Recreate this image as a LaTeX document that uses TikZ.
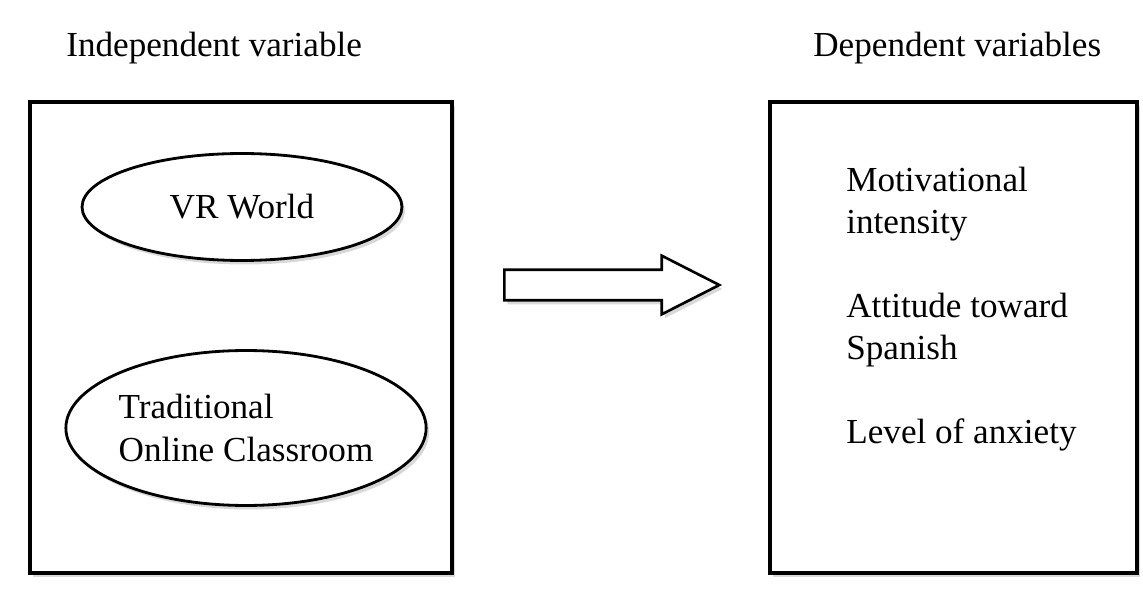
\documentclass[tikz,border=0pt]{standalone}
\usepackage{fontspec}
\setmainfont{Liberation Serif}
\usetikzlibrary{shapes.geometric,shapes.arrows,shadows}

\begin{document}
\begin{tikzpicture}[x=0.02cm,y=-0.02cm,font=\fontsize{20}{24}\selectfont,
  soft/.style={drop shadow={opacity=0.3,shadow xshift=0.06cm,shadow yshift=-0.08cm}},
  varbox/.style={draw,fill=white,line width=2pt,minimum height=9.42cm,soft},
  level/.style={ellipse,draw,fill=white,line width=1.6pt,inner sep=0pt,align=left,soft},
  item/.style={anchor=north west,align=left,inner sep=0pt},
  heading/.style={anchor=base west,inner sep=0pt},
  bigarrow/.style={single arrow,draw,fill=white,line width=1.5pt,inner xsep=0pt,inner ysep=0.28cm,minimum height=4.3cm,single arrow head extend=0.28cm,single arrow tip angle=54,soft}]
  \useasboundingbox (0,0) rectangle (1143,611);
  % the two groups of variables
  \node[heading] (indeptitle) at (66,57) {Independent variable};
  \node[heading] (deptitle) at (813,57) {Dependent variables};
  \node[varbox,minimum width=8.44cm] (indep) at (241,337.5) {};
  \node[varbox,minimum width=7.34cm] (dep) at (953.5,337.5) {};
  % levels of the independent variable
  \node[level,minimum width=6.4cm,minimum height=2.14cm] (vr) at (242,207) {VR World};
  \node[level,minimum width=7.2cm,minimum height=3.1cm] (online) at (246,428) {Traditional\\Online Classroom};
  % measured outcomes
  \node[item] (motiv) at (846,167) {Motivational\\intensity};
  \node[item] (attit) at (846,293) {Attitude toward\\Spanish};
  \node[item] (anx) at (846,418) {Level of anxiety};
  % effect arrow
  \node[bigarrow,anchor=tail] (effect) at (503,285) {};
\end{tikzpicture}
\end{document}
